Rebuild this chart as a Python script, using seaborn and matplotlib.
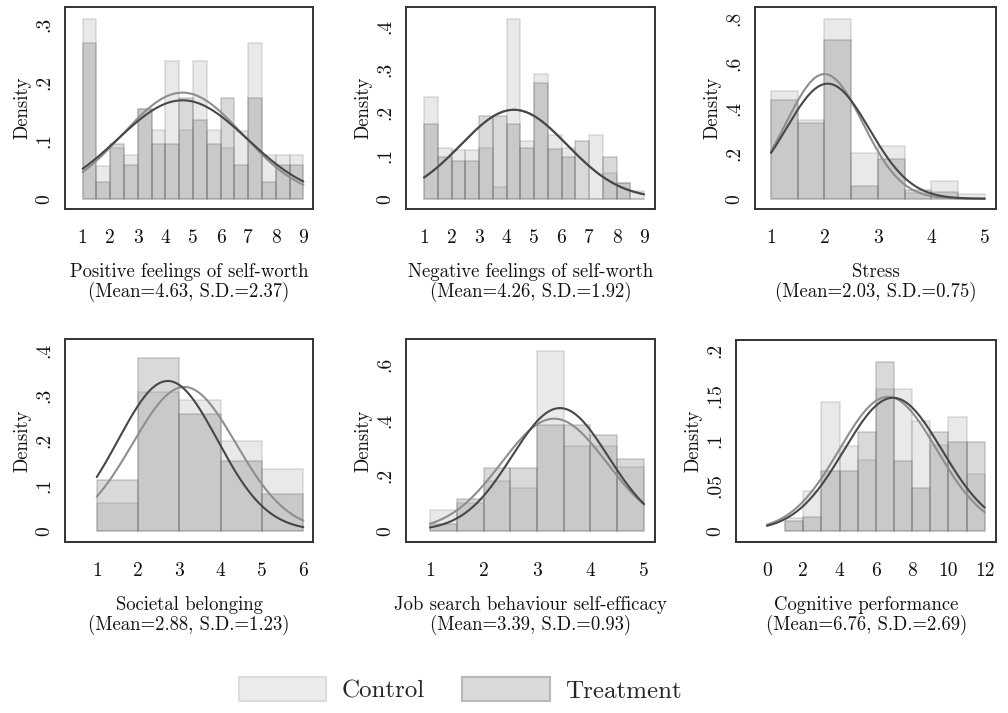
import numpy as np
import pandas as pd
import matplotlib
matplotlib.use("Agg")
import matplotlib.pyplot as plt
import seaborn as sns
from matplotlib.patches import Patch

# ---------------- data ----------------
titles = ["Positive feelings of self-worth", "Negative feelings of self-worth", "Stress",
          "Societal belonging", "Job search behaviour self-efficacy", "Cognitive performance"]
overall_mean = [4.63, 4.26, 2.03, 2.88, 3.39, 6.76]
overall_sd = [2.37, 1.92, 0.75, 1.23, 0.93, 2.69]

# histogram bins: first edge and bin width for each panel
bin_start = [1, 1, 1, 1, 1, 1]
bin_width = [0.5, 0.5, 0.5, 1, 0.5, 1]

# densities per bin, control and treatment
pos_control = [0.309, 0.057, 0.088, 0.076, 0.154, 0.118, 0.238, 0.118,
               0.238, 0.118, 0.088, 0.117, 0.268, 0.076, 0.076, 0.076]
pos_treatment = [0.269, 0.029, 0.095, 0.058, 0.154, 0.095, 0.095, 0.173,
                 0.136, 0.095, 0.173, 0.058, 0.173, 0.029, 0.058, 0.058]

neg_control = [0.237, 0.119, 0.113, 0.113, 0.119, 0.028, 0.417, 0.134,
               0.291, 0.148, 0.119, 0.0, 0.148, 0.059, 0.037, 0.019]
neg_treatment = [0.174, 0.096, 0.088, 0.088, 0.192, 0.192, 0.174, 0.119,
                 0.268, 0.115, 0.096, 0.134, 0.0, 0.096, 0.037, 0.0]

stress_control = [0.479, 0.352, 0.800, 0.204, 0.234, 0.024, 0.079, 0.019]
stress_treatment = [0.440, 0.338, 0.705, 0.056, 0.176, 0.039, 0.028, 0.0]

belong_control = [0.061, 0.307, 0.291, 0.199, 0.137]
belong_treatment = [0.113, 0.384, 0.259, 0.155, 0.081]

job_control = [0.075, 0.101, 0.180, 0.153, 0.649, 0.307, 0.307, 0.230]
job_treatment = [0.024, 0.113, 0.228, 0.228, 0.382, 0.382, 0.345, 0.259]

cog_control = [0.0144, 0.044, 0.1426, 0.094, 0.0785, 0.158, 0.158, 0.122, 0.095, 0.126, 0.063]
cog_treatment = [0.011, 0.0156, 0.066, 0.066, 0.110, 0.188, 0.077, 0.047, 0.110, 0.099, 0.099]

control_heights = [pos_control, neg_control, stress_control, belong_control, job_control, cog_control]
treatment_heights = [pos_treatment, neg_treatment, stress_treatment, belong_treatment,
                     job_treatment, cog_treatment]

# fitted normal curves (mean, sd) per group
control_mu = [4.62, 4.27, 2.00, 3.12, 3.32, 6.67]
control_sigma = [2.18, 1.93, 0.72, 1.25, 0.985, 2.68]
treatment_mu = [4.62, 4.27, 2.06, 2.72, 3.43, 6.95]
treatment_sigma = [2.35, 1.93, 0.78, 1.20, 0.90, 2.70]
curve_from = [1, 1, 1, 1, 1, 0]
curve_to = [9, 9, 5, 6, 5, 12]

# axis ticks
x_ticks = [list(range(1, 10)), list(range(1, 10)), list(range(1, 6)),
           list(range(1, 7)), list(range(1, 6)), list(range(0, 13, 2))]
y_ticks = [[0, 0.1, 0.2, 0.3], [0, 0.1, 0.2, 0.3, 0.4], [0, 0.2, 0.4, 0.6, 0.8],
           [0, 0.1, 0.2, 0.3, 0.4], [0, 0.2, 0.4, 0.6], [0, 0.05, 0.1, 0.15, 0.2]]
y_tick_labels = [["0", ".1", ".2", ".3"], ["0", ".1", ".2", ".3", ".4"],
                 ["0", ".2", ".4", ".6", ".8"], ["0", ".1", ".2", ".3", ".4"],
                 ["0", ".2", ".4", ".6"], ["0", ".05", ".1", ".15", ".2"]]
group_names = ["Control", "Treatment"]

# ---------------- layout / style ----------------
W, H = 1008, 713
frames_px = [(65, 313.3, 6.7, 209.3), (406, 655, 7.3, 209.3), (755.3, 996.3, 7.3, 209.3),
             (65, 313.3, 339.3, 542.3), (406, 655, 339.3, 542.3), (736.3, 996.3, 340, 542.3)]
xlims = [(0.36, 9.36), (0.345, 9.4), (0.706, 5.217), (0.232, 6.242), (0.551, 5.206), (-1.69, 12.64)]
ylims = [(-0.018, 0.331), (-0.0247, 0.445), (-0.047, 0.851), (-0.0258, 0.425),
         (-0.042, 0.692), (-0.0129, 0.212)]

sns.set_style("white")
plt.rcParams["font.family"] = ["cmr10", "DejaVu Serif"]
plt.rcParams["mathtext.fontset"] = "cm"
plt.rcParams["axes.formatter.use_mathtext"] = True

ctrl_face = (0.70, 0.70, 0.70, 0.28)
ctrl_edge = (0.55, 0.55, 0.55, 0.28)
treat_face = (0.46, 0.46, 0.46, 0.27)
treat_edge = (0.45, 0.45, 0.45, 0.34)
ctrl_line = "#8e8e8e"
treat_line = "#474747"
frame_col = "#333333"

fig = plt.figure(figsize=(W / 100, H / 100), dpi=100)

for i in range(6):
    l, r, t, b = frames_px[i]
    ax = fig.add_axes([l / W, 1 - b / H, (r - l) / W, (b - t) / H])
    n = len(control_heights[i])
    edges = [float(bin_start[i] + bin_width[i] * k) for k in range(n + 1)]
    centers = [(edges[k] + edges[k + 1]) / 2 for k in range(n)]
    df = pd.DataFrame({
        "x": centers + centers,
        "h": list(control_heights[i]) + list(treatment_heights[i]),
        "group": [group_names[0]] * n + [group_names[1]] * n,
    })
    for g, fc, ec in [(group_names[0], ctrl_face, ctrl_edge),
                      (group_names[1], treat_face, treat_edge)]:
        before = len(ax.patches)
        sns.histplot(data=df[df["group"] == g], x="x", weights="h", bins=edges,
                     stat="count", ax=ax, legend=False)
        for p in ax.patches[before:]:
            p.set_alpha(None)
            p.set_facecolor(fc)
            p.set_edgecolor(ec)
            p.set_linewidth(1.1)
    xs = np.linspace(curve_from[i], curve_to[i], 300)
    for mu, sd, col in [(control_mu[i], control_sigma[i], ctrl_line),
                        (treatment_mu[i], treatment_sigma[i], treat_line)]:
        dens = np.exp(-0.5 * ((xs - mu) / sd) ** 2) / (sd * np.sqrt(2 * np.pi))
        sns.lineplot(x=xs, y=dens, ax=ax, color=col, linewidth=1.5)

    ax.set_xlim(*xlims[i])
    ax.set_ylim(*ylims[i])
    ax.set_xticks(x_ticks[i])
    ax.set_xticklabels([str(v) for v in x_ticks[i]], fontsize=14)
    ax.set_yticks(y_ticks[i])
    ax.set_yticklabels(y_tick_labels[i], fontsize=14, rotation=90, va="center")
    ax.tick_params(axis="both", direction="out", length=6, width=1.2, colors=frame_col,
                   labelcolor="#111111")
    ax.tick_params(axis="x", pad=8)
    ax.tick_params(axis="y", pad=2.5)
    for s in ax.spines.values():
        s.set_visible(True)
        s.set_color(frame_col)
        s.set_linewidth(1.4)
    ax.set_xlabel(f"{titles[i]}\n(Mean={overall_mean[i]:.2f}, S.D.={overall_sd[i]:.2f})",
                  fontsize=13.5, labelpad=12, linespacing=1.05, color="#111111")
    ax.set_ylabel("Density", fontsize=13.5, labelpad=3, color="#111111")
    ax.grid(False)

handles = [Patch(facecolor="#ececec", edgecolor="#dcdcdc", linewidth=1.5),
           Patch(facecolor="#d9d9d9", edgecolor="#b8b8b8", linewidth=1.5)]
fig.legend(handles=handles, labels=group_names, loc="center",
           bbox_to_anchor=(460 / W, 1 - 690 / H), ncol=2, frameon=False, fontsize=18,
           handlelength=3.5, handleheight=1.05, handletextpad=0.6, columnspacing=1.5)

fig.savefig("out.png", dpi=100)
